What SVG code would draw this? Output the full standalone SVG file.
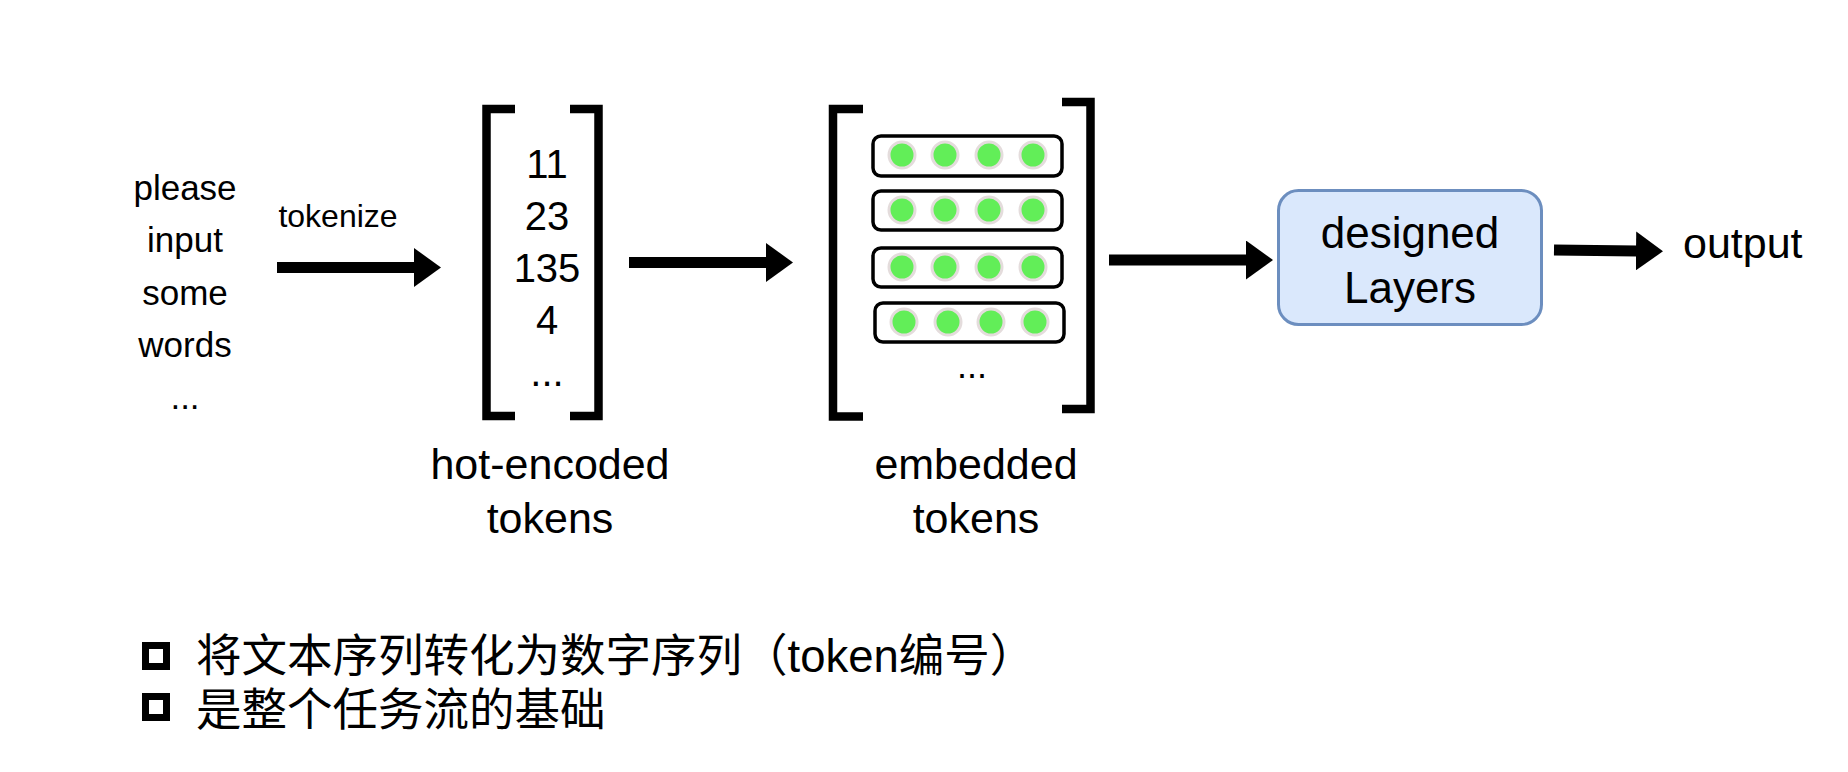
<svg xmlns="http://www.w3.org/2000/svg" width="1848" height="772" viewBox="0 0 1848 772">
<defs>
<marker id="head" viewBox="0 0 27 39" refX="1" refY="19.5" markerWidth="27" markerHeight="39" markerUnits="userSpaceOnUse" orient="auto">
<path d="M0,0 L27,19.5 L0,39 Z" fill="#000"/>
</marker>
<style>
text{font-family:"Liberation Sans",Arial,"Noto Sans CJK SC",sans-serif;fill:#000}
.c{text-anchor:middle}
.br{fill:none;stroke:#000;stroke-width:8.5;stroke-linecap:butt;stroke-linejoin:miter}
.row{fill:#fff;stroke:#000;stroke-width:3.5}
.dot{fill:#62ee58;stroke:#e4dcdc;stroke-width:3}
.ar{stroke:#000;stroke-width:11;fill:none;marker-end:url(#head)}
.cb{fill:none;stroke:#000;stroke-width:7}
.zh{font-family:"Liberation Sans","Noto Sans CJK SC",sans-serif;font-size:45.5px}
</style>
</defs>
<rect width="1848" height="772" fill="#fff"/>

<g id="input-words">
<text class="c" x="185" y="200" font-size="35">please</text>
<text class="c" x="185" y="252" font-size="35">input</text>
<text class="c" x="185" y="305" font-size="35">some</text>
<text class="c" x="185" y="357" font-size="35">words</text>
<text class="c" x="185" y="409" font-size="35">...</text>
</g>

<g id="hot-encoded">
<path class="br" d="M515,109 H486.5 V416 H515"/>
<path class="br" d="M570,109 H598.5 V416 H570"/>
<text class="c" x="547" y="178" font-size="40">11</text>
<text class="c" x="547" y="230" font-size="40">23</text>
<text class="c" x="547" y="282" font-size="40">135</text>
<text class="c" x="547" y="334" font-size="40">4</text>
<text class="c" x="547" y="386" font-size="40">...</text>
<text class="c" x="550" y="479" font-size="43">hot-encoded</text>
<text class="c" x="550" y="533" font-size="43">tokens</text>
</g>

<g id="embedded">
<path class="br" d="M863,109 H833 V416.5 H863"/>
<path class="br" d="M1062,102 H1090.5 V409 H1062"/>
<rect class="row" x="873" y="136" width="189" height="40" rx="8"/>
<rect class="row" x="873" y="191" width="189" height="39" rx="8"/>
<rect class="row" x="873" y="248" width="189" height="39" rx="8"/>
<rect class="row" x="875" y="303" width="189" height="39" rx="8"/>
<g>
<circle class="dot" cx="902" cy="155" r="13"/><circle class="dot" cx="945" cy="155" r="13"/><circle class="dot" cx="989" cy="155" r="13"/><circle class="dot" cx="1033" cy="155" r="13"/>
<circle class="dot" cx="902" cy="210" r="13"/><circle class="dot" cx="945" cy="210" r="13"/><circle class="dot" cx="989" cy="210" r="13"/><circle class="dot" cx="1033" cy="210" r="13"/>
<circle class="dot" cx="902" cy="267" r="13"/><circle class="dot" cx="945" cy="267" r="13"/><circle class="dot" cx="989" cy="267" r="13"/><circle class="dot" cx="1033" cy="267" r="13"/>
<circle class="dot" cx="904" cy="322" r="13"/><circle class="dot" cx="948" cy="322" r="13"/><circle class="dot" cx="991" cy="322" r="13"/><circle class="dot" cx="1035" cy="322" r="13"/>
</g>
<text class="c" x="972" y="378" font-size="36">...</text>
<text class="c" x="976" y="479" font-size="43">embedded</text>
<text class="c" x="976" y="533" font-size="43">tokens</text>
</g>

<g id="designed-layers">
<rect x="1278.5" y="190.5" width="263" height="134" rx="20" fill="#dae8fc" stroke="#6c8ebf" stroke-width="3"/>
<text class="c" x="1410" y="248" font-size="44">designed</text>
<text class="c" x="1410" y="303" font-size="44">Layers</text>
</g>

<g id="output">
<text x="1683" y="258" font-size="43">output</text>
</g>

<g id="connectors">
<line class="ar" x1="277" y1="267.5" x2="415" y2="267.5"/>
<text class="c" x="338" y="227" font-size="32">tokenize</text>
<line class="ar" x1="629" y1="262.5" x2="767" y2="262.5"/>
<line class="ar" x1="1109" y1="260" x2="1247" y2="260"/>
<line class="ar" x1="1554" y1="250" x2="1637" y2="251"/>
</g>

<g id="notes">
<rect class="cb" x="145.5" y="645.5" width="21" height="21"/>
<text class="zh" x="196" y="672">将文本序列转化为数字序列（token编号）</text>
<rect class="cb" x="145.5" y="696.5" width="21" height="21"/>
<text class="zh" x="196" y="726">是整个任务流的基础</text>
</g>
</svg>
